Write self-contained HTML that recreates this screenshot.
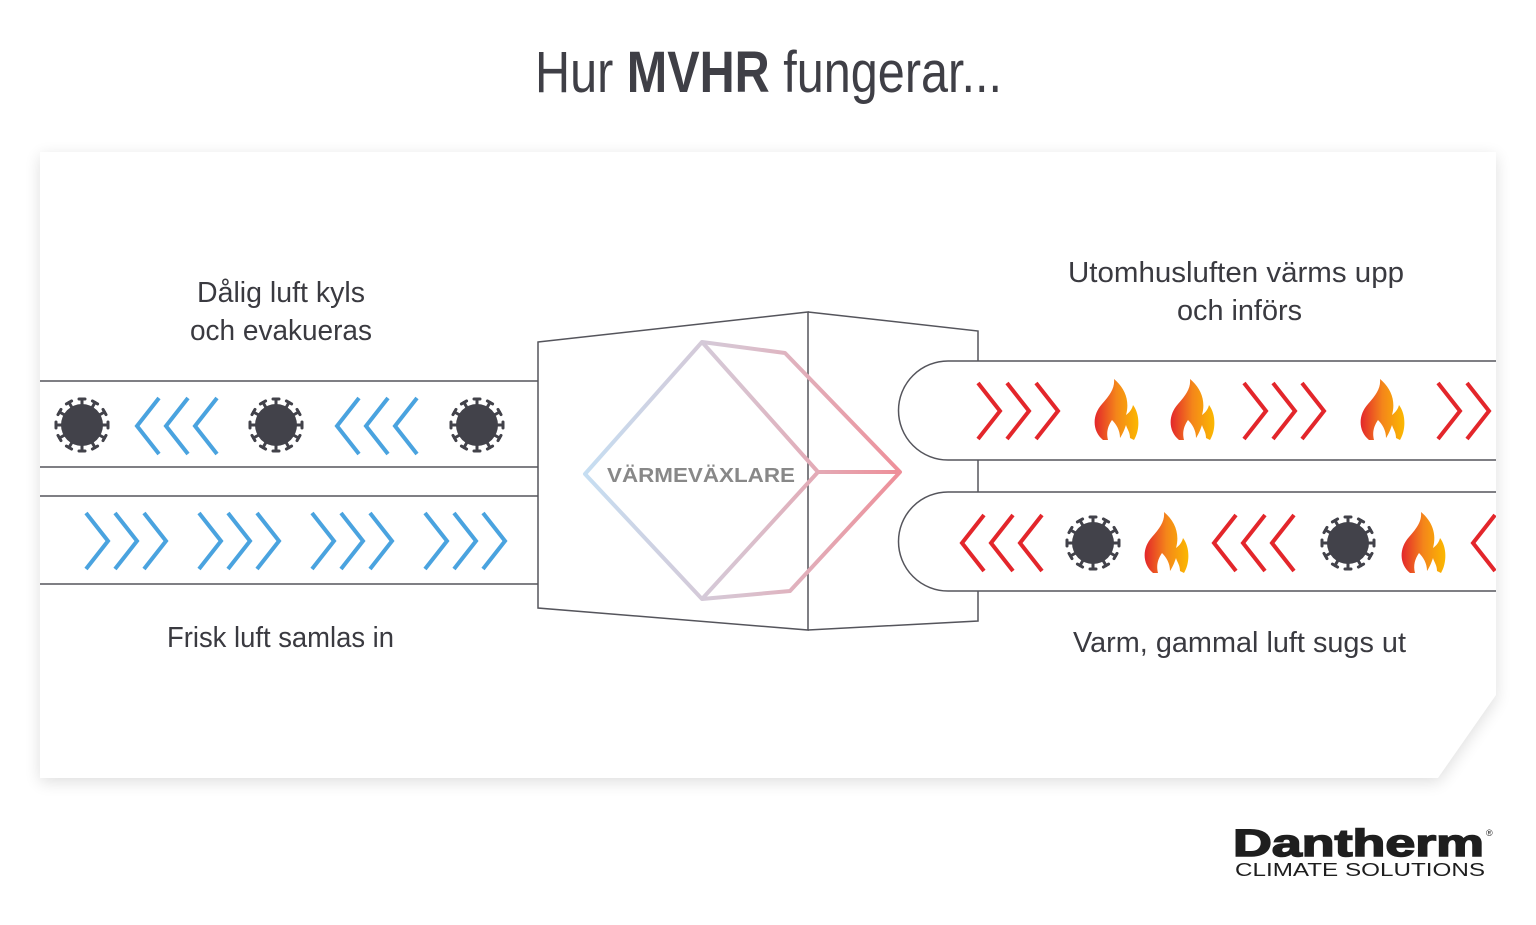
<!DOCTYPE html>
<html><head><meta charset="utf-8"><style>
html,body{margin:0;padding:0;background:#fff;width:1536px;height:925px;overflow:hidden}
svg{display:block}
text{font-family:"Liberation Sans",sans-serif}
</style></head><body>
<svg width="1536" height="925" viewBox="0 0 1536 925" xmlns="http://www.w3.org/2000/svg">
<defs>
<filter id="sh" x="-5%" y="-5%" width="110%" height="115%"><feGaussianBlur stdDeviation="8"/></filter>
<linearGradient id="hx" x1="585" y1="0" x2="900" y2="0" gradientUnits="userSpaceOnUse">
<stop offset="0" stop-color="#c6def2"/><stop offset="0.5" stop-color="#d9c2cf"/><stop offset="1" stop-color="#ee8f99"/></linearGradient>
<linearGradient id="fl" x1="0" y1="0" x2="1" y2="0"><stop offset="0" stop-color="#e3262b"/><stop offset="0.5" stop-color="#f4861a"/><stop offset="1" stop-color="#fbb800"/></linearGradient>
<symbol id="vir" viewBox="-30 -30 60 60" overflow="visible">
<g stroke="#42424a" stroke-width="3" stroke-linecap="round">
<g id="sp"><line x1="0" y1="-18" x2="0" y2="-26"/><line x1="-3" y1="-26" x2="3" y2="-26"/></g>
<use href="#sp" transform="rotate(30)"/><use href="#sp" transform="rotate(60)"/><use href="#sp" transform="rotate(90)"/><use href="#sp" transform="rotate(120)"/><use href="#sp" transform="rotate(150)"/><use href="#sp" transform="rotate(180)"/><use href="#sp" transform="rotate(210)"/><use href="#sp" transform="rotate(240)"/><use href="#sp" transform="rotate(270)"/><use href="#sp" transform="rotate(300)"/><use href="#sp" transform="rotate(330)"/>
</g><circle r="21" fill="#42424a"/></symbol>
<symbol id="flame" viewBox="0 0 46 62" overflow="visible">
<path fill="url(#fl)" d="M10,61 C-1,52 -1,36 9,25 C17,16 22,9 21,0 C32,9 37,22 33,36 C37,33 39,30 40,26 C47,35 47,51 41,61 L37,59 C37,53 34,50 33,46 C31,52 29,56 27,59 C27,51 23,45 19,41 C15,47 13,53 15,61 Z"/></symbol>
<path id="cl" d="M22,0 L0,28 L22,56" fill="none" stroke="#4aa3df" stroke-width="4"/>
<path id="cr" d="M0,0 L22,28 L0,56" fill="none" stroke="#4aa3df" stroke-width="4"/>
<path id="rr" d="M0,0 L22,28 L0,56" fill="none" stroke="#e3262b" stroke-width="4"/>
<path id="rl" d="M22,0 L0,28 L22,56" fill="none" stroke="#e3262b" stroke-width="4"/>
<clipPath id="card"><path d="M40,152 H1496 V695 L1438,778 H40 Z"/></clipPath>
</defs>
<rect width="1536" height="925" fill="#fff"/>
<path d="M40,156 H1496 V699 L1438,782 H40 Z" fill="#000" opacity="0.13" filter="url(#sh)"/>
<path d="M40,152 H1496 V695 L1438,778 H40 Z" fill="#fff"/>

<text x="535" y="92" font-size="58" fill="#3f3f46" textLength="467" lengthAdjust="spacingAndGlyphs">Hur <tspan font-weight="bold">MVHR</tspan> fungerar...</text>

<g clip-path="url(#card)">
<!-- left ducts -->
<g stroke="#55555c" stroke-width="1.5">
<line x1="40" y1="381" x2="538" y2="381"/><line x1="40" y1="467" x2="538" y2="467"/>
<line x1="40" y1="496" x2="538" y2="496"/><line x1="40" y1="584" x2="538" y2="584"/>
</g>
<use href="#vir" x="52" y="395" width="60" height="60"/>
<use href="#vir" x="246" y="395" width="60" height="60"/>
<use href="#vir" x="447" y="395" width="60" height="60"/>
<g transform="translate(137,398)"><use href="#cl"/><use href="#cl" x="29"/><use href="#cl" x="58"/></g>
<g transform="translate(337,398)"><use href="#cl"/><use href="#cl" x="29"/><use href="#cl" x="58"/></g>
<g transform="translate(86,513)"><use href="#cr"/><use href="#cr" x="29"/><use href="#cr" x="58"/></g>
<g transform="translate(199,513)"><use href="#cr"/><use href="#cr" x="29"/><use href="#cr" x="58"/></g>
<g transform="translate(312,513)"><use href="#cr"/><use href="#cr" x="29"/><use href="#cr" x="58"/></g>
<g transform="translate(425,513)"><use href="#cr"/><use href="#cr" x="29"/><use href="#cr" x="58"/></g>

<!-- box -->
<g fill="none" stroke="#55555c" stroke-width="1.5">
<path d="M538,342 L808,312 L808,630 L538,608 Z"/>
<path d="M808,312 L978,331 L978,361"/>
<path d="M978,460 L978,492"/>
<path d="M978,591 L978,621 L808,630"/>
<!-- right pipes -->
<path d="M1496,361 H948 A49.5,49.5 0 0 0 948,460 H1496"/>
<path d="M1496,492 H948 A49.5,49.5 0 0 0 948,591 H1496"/>
</g>
<!-- hexagon -->
<g fill="none" stroke="url(#hx)" stroke-width="4" stroke-linejoin="round">
<path d="M702,342 L785,353 L900,472 L790,591 L702,599 L585,474 Z"/>
<path d="M702,342 L818,472 L702,599 M818,472 L900,472"/>
</g>
<text x="607" y="482" font-size="20" font-weight="bold" fill="#888" textLength="188" lengthAdjust="spacingAndGlyphs">VÄRMEVÄXLARE</text>

<!-- right top -->
<g transform="translate(978,383)"><use href="#rr"/><use href="#rr" x="29"/><use href="#rr" x="58"/></g>
<use href="#flame" x="1093" y="379" width="46" height="62"/>
<use href="#flame" x="1169" y="379" width="46" height="62"/>
<g transform="translate(1244,383)"><use href="#rr"/><use href="#rr" x="29"/><use href="#rr" x="58"/></g>
<use href="#flame" x="1359" y="379" width="46" height="62"/>
<g transform="translate(1438,383)"><use href="#rr"/><use href="#rr" x="29"/></g>
<!-- right bottom -->
<g transform="translate(962,515)"><use href="#rl"/><use href="#rl" x="29"/><use href="#rl" x="58"/></g>
<use href="#vir" x="1063" y="513" width="60" height="60"/>
<use href="#flame" x="1143" y="512" width="46" height="62"/>
<g transform="translate(1214,515)"><use href="#rl"/><use href="#rl" x="29"/><use href="#rl" x="58"/></g>
<use href="#vir" x="1318" y="513" width="60" height="60"/>
<use href="#flame" x="1400" y="512" width="46" height="62"/>
<g transform="translate(1473,515)"><use href="#rl"/></g>
</g>

<g fill="#3a3a40" font-size="29">
<text x="197" y="302" textLength="168" lengthAdjust="spacingAndGlyphs">Dålig luft kyls</text>
<text x="190" y="340" textLength="182" lengthAdjust="spacingAndGlyphs">och evakueras</text>
<text x="1068" y="282" textLength="336" lengthAdjust="spacingAndGlyphs">Utomhusluften värms upp</text>
<text x="1177" y="320" textLength="125" lengthAdjust="spacingAndGlyphs">och införs</text>
<text x="167" y="647" textLength="227" lengthAdjust="spacingAndGlyphs">Frisk luft samlas in</text>
<text x="1073" y="652" textLength="333" lengthAdjust="spacingAndGlyphs">Varm, gammal luft sugs ut</text>
</g>

<text x="1233" y="856" font-family="Liberation Serif,serif" font-weight="bold" font-size="38" fill="#1e1e1e" stroke="#1e1e1e" stroke-width="1.5" textLength="251" lengthAdjust="spacingAndGlyphs">Dantherm</text>
<text x="1486" y="836" font-size="9" fill="#1e1e1e">®</text>
<text x="1235" y="876" font-size="18" fill="#1e1e1e" textLength="250" lengthAdjust="spacingAndGlyphs">CLIMATE  SOLUTIONS</text>
</svg>
</body></html>
